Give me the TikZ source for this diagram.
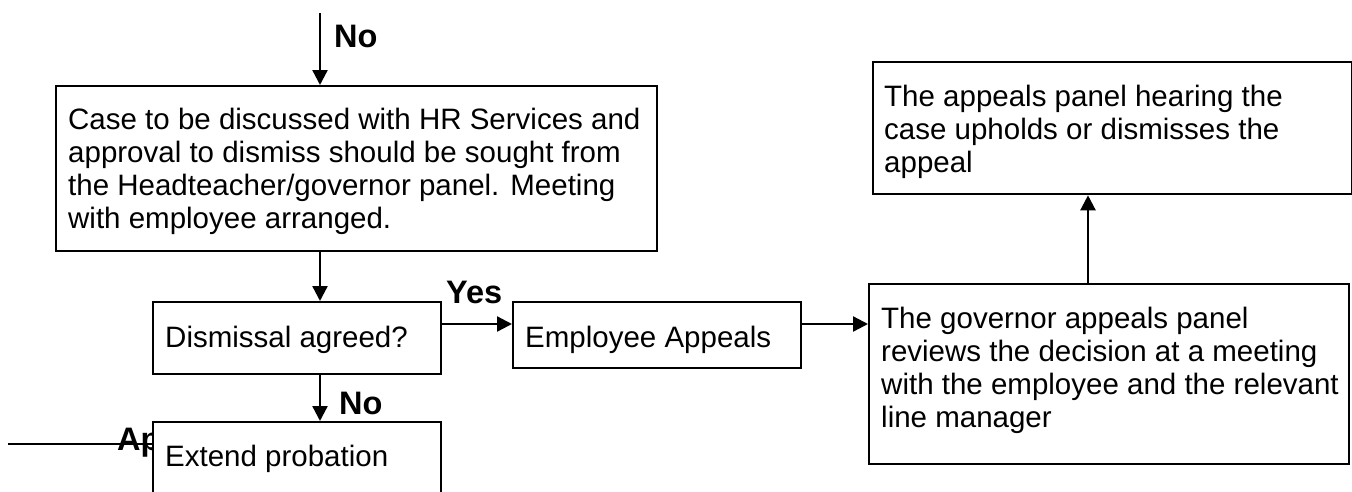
\documentclass[tikz,border=0pt]{standalone}
\usepackage{fontspec}
\setmainfont{Liberation Sans}
\usetikzlibrary{arrows.meta,calc}
\begin{document}
\begin{tikzpicture}[x=1pt,y=-1pt,
  box/.style={draw,line width=2.3pt,fill=white,inner sep=0pt,anchor=north west},
  txt/.style={anchor=base west,inner sep=0pt,font=\fontsize{29.5}{33}\selectfont},
  lbl/.style={anchor=base west,inner sep=0pt,font=\fontsize{32.5}{38}\selectfont\bfseries},
  arr/.style={line width=2.3pt,-{Triangle[length=15pt,width=15pt]}},
  ln/.style={line width=2.3pt}]
\clip (0,0) rectangle (1352,491);
\useasboundingbox (0,0) rectangle (1352,491);

% left line and partially hidden label
\coordinate (l0) at (8,444);
\node[lbl] (aplbl) at (117,450) {Ap};

% boxes
\node[box,minimum width=601pt,minimum height=165pt] (box1) at (55,85) {};
\node[box,minimum width=288pt,minimum height=72pt] (dis) at (152,301) {};
\node[box,minimum width=288pt,minimum height=66pt] (emp) at (512,301) {};
\node[box,minimum width=480pt,minimum height=180pt] (gov) at (868,283) {};
\node[box,minimum width=479pt,minimum height=132pt] (app) at (872,61) {};
\node[box,minimum width=288pt,minimum height=120pt] (ext) at (152,421) {};
\draw[ln] (l0) -- (l0 -| ext.west);

% texts
\node[txt] (box1t) at ($(box1.north west)+(13,44)$) {\parbox[t]{620pt}{Case to be discussed with HR Services and\\approval to dismiss should be sought from\\the Headteacher/governor panel. Meeting\\with employee arranged.}};
\node[txt] (dist) at ($(dis.north west)+(13,46)$) {Dismissal agreed?};
\node[txt] (empt) at ($(emp.north west)+(13,46)$) {Employee Appeals};
\node[txt] (govt) at ($(gov.north west)+(13,45)$) {\parbox[t]{470pt}{The governor appeals panel\\reviews the decision at a meeting\\with the employee and the relevant\\line manager}};
\node[txt] (appt) at ($(app.north west)+(12,45)$) {\parbox[t]{470pt}{The appeals panel hearing the\\case upholds or dismisses the\\appeal}};
\node[txt] (extt) at ($(ext.north west)+(13,45)$) {Extend probation};

% labels
\node[lbl] (no1) at (334,47) {No};
\node[lbl] (yes) at (446,303) {Yes};
\node[lbl] (no2) at (339,414) {No};

% connectors
\coordinate (topin) at (320,13);
\draw[arr] (topin) -- (topin |- box1.north);
\coordinate (b1) at ($(box1.south west)+(265,0)$);
\draw[arr] (b1) -- (b1 |- dis.north);
\coordinate (d1) at ($(dis.south west)+(168,0)$);
\draw[arr] (d1) -- (d1 |- ext.north);
\coordinate (y1) at ($(dis.north east)+(0,23)$);
\draw[arr] (y1) -- (y1 -| emp.west);
\coordinate (e1) at ($(emp.north east)+(0,23)$);
\draw[arr] (e1) -- (e1 -| gov.west);
\coordinate (g1) at ($(gov.north west)+(220,0)$);
\draw[arr] (g1) -- (g1 |- app.south);
\end{tikzpicture}
\end{document}
